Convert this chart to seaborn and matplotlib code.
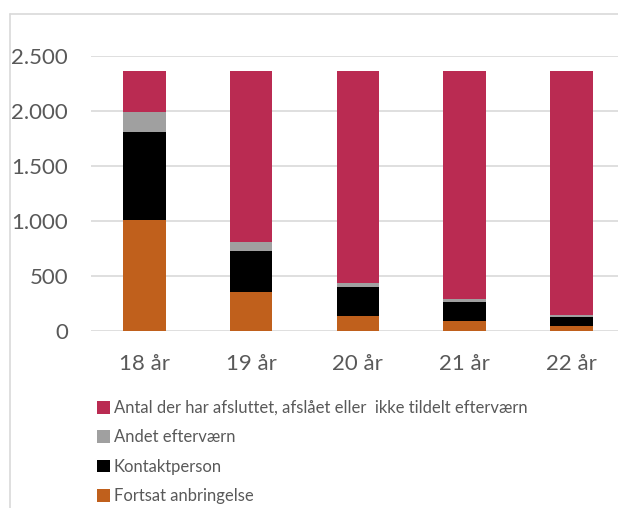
import numpy as np
import pandas as pd
import matplotlib
matplotlib.use("Agg")
import matplotlib.pyplot as plt
import seaborn as sns
from matplotlib.patches import Patch
from matplotlib.lines import Line2D

# -------------------------------
# DATA
# -------------------------------
ages = ["18 år", "19 år", "20 år", "21 år", "22 år"]
fortsat = [1008, 357, 136, 91, 45]
kontakt = [802, 372, 266, 175, 85]
andet = [181, 82, 37, 27, 15]
afsluttet = [367, 1547, 1919, 2065, 2213]

labels = [
    "Antal der har afsluttet, afslået eller  ikke tildelt efterværn",
    "Andet efterværn",
    "Kontaktperson",
    "Fortsat anbringelse",
]
colors = ["#BA2B52", "#A0A0A0", "#000000", "#C0601C"]

sns.set_theme(style="white")
plt.rcParams["font.family"] = ["Lato", "DejaVu Sans"]
TXT = "#595959"

df = pd.DataFrame({
    "age": ages,
    "fortsat": fortsat,
    "kontakt": kontakt,
    "andet": andet,
    "afsluttet": afsluttet,
})
# cumulative tops, drawn from the top layer down
df["c1"] = df["fortsat"]
df["c2"] = df["c1"] + df["kontakt"]
df["c3"] = df["c2"] + df["andet"]
df["c4"] = df["c3"] + df["afsluttet"]

W, H = 618, 508
fig = plt.figure(figsize=(W / 100, H / 100), dpi=100)
ax = fig.add_axes([91 / W, 177 / H, (618 - 91) / W, (331 - 55.7) / H])

for col, c in zip(["c4", "c3", "c2", "c1"], colors):
    sns.barplot(data=df, x="age", y=col, color=c, width=0.4,
                saturation=1, ax=ax, linewidth=0)

ax.set_ylim(0, 2500)
ax.set_xlim(-0.5, -0.5 + (618 - 91) / 106.75)
ax.set_yticks(np.arange(0, 2501, 500))
ax.set_yticklabels([f"{v:,}".replace(",", ".") for v in range(0, 2501, 500)])
ax.set_xlabel("")
ax.set_ylabel("")
ax.yaxis.grid(True, color="#D9D9D9", linewidth=1.2)
ax.set_axisbelow(True)
for s in ax.spines.values():
    s.set_visible(False)
ax.tick_params(axis="both", length=0, labelsize=16, colors=TXT)
ax.tick_params(axis="y", pad=16.5)
ax.tick_params(axis="x", pad=16.5)

handles = [Patch(facecolor=c, edgecolor="none") for c in colors]
leg = fig.legend(handles, labels, loc="upper left",
                 bbox_to_anchor=(97 / W, 1 - 400 / H), frameon=False,
                 fontsize=12, labelcolor=TXT, handlelength=0.8,
                 handleheight=0.8, handletextpad=0.2, labelspacing=0.8,
                 borderpad=0, borderaxespad=0)

# chart frame (left and top edge)
fig.add_artist(Line2D([10 / W, 10 / W], [0, 1 - 14 / H], color="#D9D9D9",
                      linewidth=1.2, transform=fig.transFigure))
fig.add_artist(Line2D([10 / W, 1], [1 - 14 / H, 1 - 14 / H], color="#D9D9D9",
                      linewidth=1.2, transform=fig.transFigure))

fig.savefig("out.png", dpi=100)
